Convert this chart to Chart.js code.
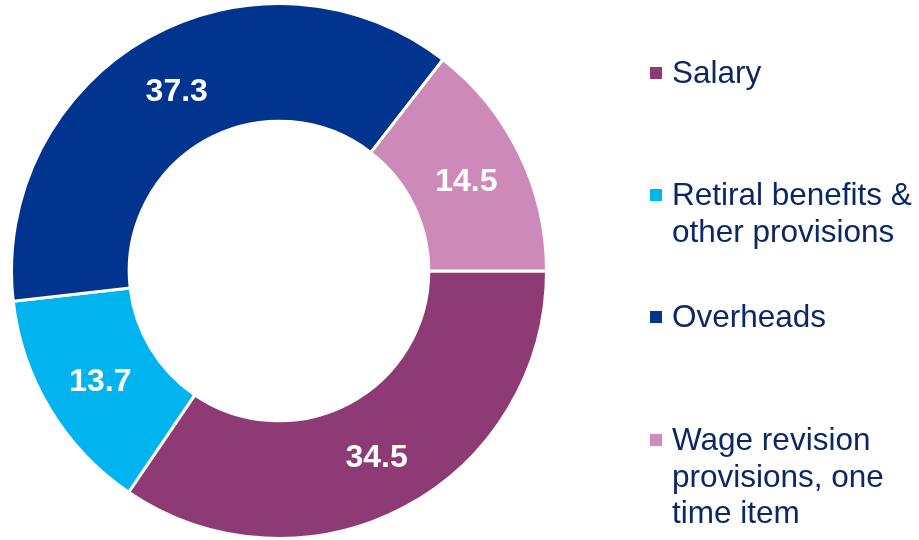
<!DOCTYPE html>
<html>
<head>
<meta charset="utf-8">
<script src="https://cdn.jsdelivr.net/npm/chart.js@4/dist/chart.umd.min.js"></script>
<style>
    html, body { margin: 0; padding: 0; background: #fff; }
    #wrap { position: relative; width: 919px; height: 540px; }
    #legend {
        position: absolute; left: 650px; top: 0;
        font-family: "Liberation Sans", Arial, sans-serif;
        font-size: 31.5px; line-height: 36.5px; color: #0c2766;
    }
    .item { position: absolute; left: 0; white-space: nowrap; }
    .box { position: absolute; left: 0; top: 12px; width: 12px; height: 12px; }
    .text { position: absolute; left: 22px; top: -1px; }
</style>
</head>
<body>
<div id="wrap">
    <canvas id="chart" width="919" height="540"></canvas>
    <div id="legend"></div>
</div>
<script>
const categories = [
    ["Salary"],
    ["Retiral benefits &", "other provisions"],
    ["Overheads"],
    ["Wage revision", "provisions, one", "time item"],
];
const shares = [34.5, 13.7, 37.3, 14.5];
const colors = ["#8e3b75", "#00b4ef", "#00348e", "#cd8ab9"];
const legendTops = [55, 177, 299, 422];

// white value labels in the middle of each ring segment
const valueLabels = {
    id: "valueLabels",
    afterDatasetsDraw(chart) {
        const ctx = chart.ctx;
        const meta = chart.getDatasetMeta(0);
        ctx.save();
        ctx.font = "bold 32px 'Liberation Sans', Arial, sans-serif";
        ctx.fillStyle = "#fff";
        ctx.textAlign = "center";
        ctx.textBaseline = "middle";
        meta.data.forEach((arc, i) => {
            const p = arc.getCenterPoint();
            ctx.fillText(shares[i].toFixed(1), p.x, p.y + 3);
        });
        ctx.restore();
    }
};

new Chart(document.getElementById("chart"), {
    type: "doughnut",
    data: {
        labels: categories.map(c => c.join(" ")),
        datasets: [{
            data: shares,
            backgroundColor: colors,
            borderColor: "#fff",
            borderWidth: 3,
        }],
    },
    options: {
        responsive: false,
        animation: false,
        rotation: 90,
        cutout: "56%",
        layout: { padding: { left: 10, right: 371, top: 2, bottom: 0 } },
        plugins: {
            legend: { display: false },
            tooltip: { enabled: false },
        },
    },
    plugins: [valueLabels],
});

const legend = document.getElementById("legend");
categories.forEach((lines, i) => {
    const item = document.createElement("div");
    item.className = "item";
    item.style.top = legendTops[i] + "px";
    item.innerHTML = `<div class="box" style="background:${colors[i]}"></div>` +
        `<div class="text">${lines.join("<br>")}</div>`;
    legend.appendChild(item);
});
</script>
</body>
</html>
